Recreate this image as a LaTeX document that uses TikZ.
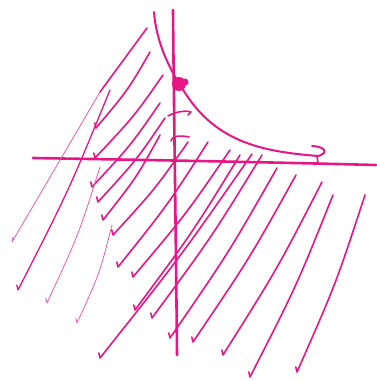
\documentclass[tikz,border=0pt]{standalone}
\definecolor{mag}{RGB}{232,22,132}
\definecolor{magl}{RGB}{236,90,170}
\tikzset{
  hl/.style={draw=mag, line width=1.6pt, line cap=round, line join=round},
  hthin/.style={draw=magl, line width=0.8pt, line cap=round, line join=round},
  axisline/.style={draw=mag, line width=2.6pt, line cap=round},
}
\newcommand\hs[5][hl]{\draw[#1] (#2,#3) .. controls ({(#2+#4)/2+5},{(#3+#5)/2}) .. (#4,#5) -- ++(-1.2,-5);}
\begin{document}
\begin{tikzpicture}[x=1pt,y=-1pt]
\useasboundingbox (0,0) rectangle (376,381);
% axes
\draw[axisline] (33,158) .. controls (150,160) and (260,162) .. (376,165);
\draw[axisline] (173,10) .. controls (174,120) and (176,240) .. (177,355);
% curve
\draw[hl, line width=2pt] (154,12) .. controls (156,40) and (168,66) .. (179,83)
  .. controls (190,102) and (205,123) .. (233,137)
  .. controls (255,148) and (280,153) .. (318,156)
  .. controls (327,154) and (328,147) .. (312,146);
\draw[hl] (317,156) -- (318,163);
% dot
\fill[mag] (179,84) circle[radius=7pt];
\fill[mag] (185,82) circle[radius=3.5pt];
% ticks on y axis
\draw[hl] (168,116) .. controls (175,112) and (185,110) .. (191,112) -- (188,115);
\draw[hl] (171,141) .. controls (171,136) and (180,135) .. (189,137);
% left hatching
\draw[hl] (147,28) -- (100,92);
\draw[hthin] (100,92) -- (12,242) -- ++(1,-5);
\hs{150}{52}{96}{128}
\hs{163}{75}{95}{158}
\hs{160}{103}{92}{187}
\hs{165}{118}{98}{202}
\hs{160}{135}{103}{220}
\hs[hl,line width=1.3pt]{110}{90}{18}{290}
\hs[hthin]{100}{167}{47}{303}
\hs[hthin]{112}{225}{77}{323}
% right hatching
\hs{188}{142}{113}{235}
\hs{208}{142}{118}{267}
\hs{230}{150}{133}{277}
\hs{240}{155}{135}{310}
\hs{252}{154}{100}{358}
\hs{262}{155}{152}{318}
\hs{277}{168}{170}{338}
\hs{296}{175}{193}{342}
\hs{322}{182}{223}{355}
\hs{333}{195}{250}{377}
\hs{365}{195}{297}{372}
\end{tikzpicture}
\end{document}
